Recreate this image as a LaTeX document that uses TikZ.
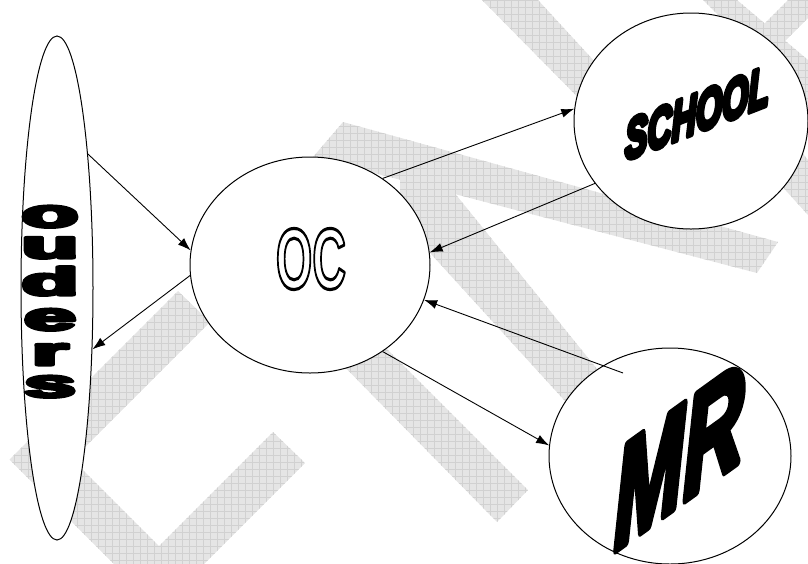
\documentclass[tikz,border=0pt]{standalone}
\usepackage{fontspec}
\usepackage{tikz}
\usetikzlibrary{calc,arrows.meta,shapes.geometric}
\newfontfamily\heavyfont{Liberation Sans}
\newfontfamily\narrowfont{Liberation Sans}
\definecolor{wmgrey}{gray}{0.90}
\definecolor{wmline}{gray}{0.82}

\begin{document}
\begin{tikzpicture}[x=1pt,y=-1pt]

\tikzset{bubble/.style={draw=black,fill=white,shape=ellipse,inner sep=0pt,line width=1pt},
link/.style={-{Latex[length=13pt,width=9pt]},line width=0.9pt},
wmband/.style={fill=wmgrey,path picture={\draw[wmline,line width=0.3pt,step=7pt] (path picture bounding box.south west) grid (path picture bounding box.north east);}},
heavy/.style={execute at begin node={\special{pdf:literal direct 2 Tr #1 w 1 j}},execute at end node={\special{pdf:literal direct 0 Tr}}},
hollow/.style={execute at begin node={\special{pdf:literal direct 1 Tr #1 w 1 j}},execute at end node={\special{pdf:literal direct 0 Tr}}},
octext/.style={font=\narrowfont\bfseries\fontsize{60}{60}\selectfont,inner sep=0pt,xscale=0.78,yscale=1.44,hollow=2.2},
stacked/.style={font=\heavyfont\bfseries\fontsize{30}{30}\selectfont,inner sep=0pt,anchor=base,xscale=3.1,yscale=1.3,heavy=2.4},
schooltext/.style={font=\heavyfont\bfseries\itshape\fontsize{40}{40}\selectfont,inner sep=0pt,yslant=0.39,xscale=0.84,yscale=1.4,heavy=4},
mrtext/.style={font=\heavyfont\bfseries\itshape\fontsize{80}{80}\selectfont,inner sep=0pt,yslant=0.72,xscale=1.04,yscale=1.76,heavy=5}}

\useasboundingbox (0,0) rectangle (808,563);

% Watermark bands
\fill[wmband] (178,291) -- (9.5,459.5) -- (159,609) -- (305,463) -- (273,432) -- (159,546) -- (72.5,459.5) -- (210,322) -- cycle;
\fill[wmband] (343,122) -- (778,242) -- (757,273) -- (313,157) -- cycle;
\fill[wmband] (360,322) -- (528,490) -- (497,522) -- (330,352) -- cycle;
\fill[wmband] (400,175) -- (440,175) -- (610,385) -- (575,412) -- (400,220) -- cycle;
\fill[wmband] (482,0) -- (538,0) -- (665,138) -- (620,140) -- cycle;
\fill[wmband] (703,0) -- (737,0) -- (808,60) -- (808,105) -- cycle;
\fill[wmband] (748,40) -- (788,0) -- (808,0) -- (808,18) -- (768,58) -- cycle;
\fill[wmband] (740,140) -- (775,120) -- (808,160) -- (808,215) -- cycle;

% Bubbles
\node (ouders) [bubble,minimum width=72,minimum height=504] at (57,288) {};
\node (oc) [bubble,minimum width=240,minimum height=216] at (310,265) {};
\node (school) [bubble,minimum width=234,minimum height=216] at (691,121) {};
\node (mr) [bubble,minimum width=242,minimum height=216] at (670,456) {};

% Labels
\node (oclabel) [octext] at (311,259) {OC};
\foreach \l/\y in {o/227,u/258,d/295,e/330,r/365,s/397} \node (ou-\l) [stacked] at (50,\y) {\l};
\node (schoollabel) [schooltext] at (697,113) {SCHOOL};
\node (mrlabel) [mrtext] at (679,456) {MR};

% Arrows
\coordinate (mrin) at (623,373);
\draw[link] (ouders.77) -- (oc.173);
\draw[link] (oc.185) -- (ouders.-60);
\draw[link] (oc.50) -- (school.174);
\draw[link] (school.213) -- (oc.6);
\draw[link] (mrin) -- (oc.-17);
\draw[link] (oc.-50) -- (mr.175);

\end{tikzpicture}
\end{document}
